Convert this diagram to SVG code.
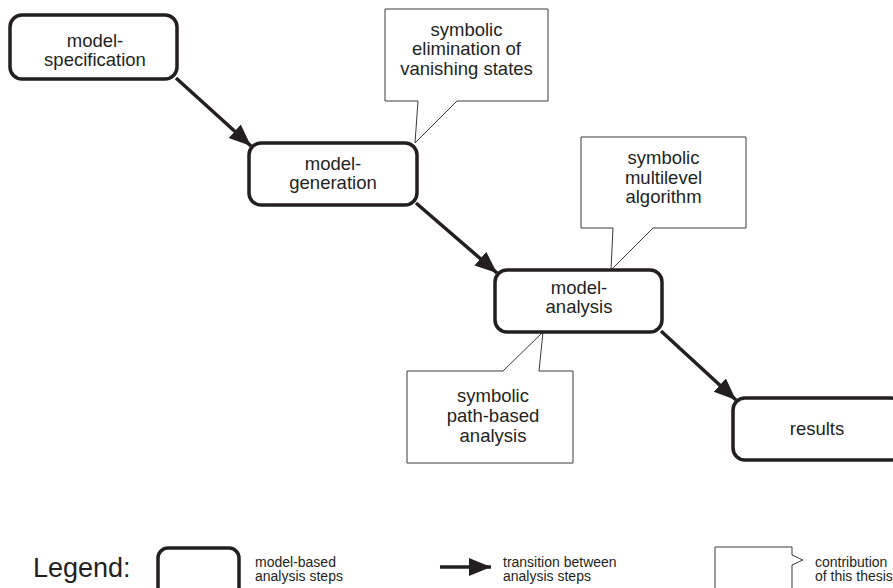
<svg xmlns="http://www.w3.org/2000/svg" width="893" height="588" viewBox="0 0 893 588">
  <style>
    .step { fill: #ffffff; stroke: #231f20; stroke-width: 3.5; }
    .note { fill: #ffffff; stroke: #3a3a3a; stroke-width: 1; }
    .lbl { font-family: "Liberation Sans", Arial, sans-serif; font-size: 18.5px; fill: #231f20; text-anchor: middle; }
    .leg { font-family: "Liberation Sans", Arial, sans-serif; font-size: 14px; fill: #231f20; }
    .flow { stroke: #231f20; stroke-width: 3.5; fill: none; }
  </style>
  <defs>
    <marker id="head" markerUnits="userSpaceOnUse" markerWidth="24" markerHeight="20" viewBox="0 0 24 20" refX="22" refY="10" orient="auto">
      <path d="M0,1 L22,10 L0,19 Z" fill="#231f20"/>
    </marker>
  </defs>
  <rect width="893" height="588" fill="#ffffff"/>

  <!-- transitions between analysis steps -->
  <g id="connectors">
    <line class="flow" x1="176" y1="78" x2="251" y2="146" marker-end="url(#head)"/>
    <line class="flow" x1="416" y1="203" x2="497" y2="273" marker-end="url(#head)"/>
    <line class="flow" x1="661" y1="331" x2="736" y2="400" marker-end="url(#head)"/>
  </g>

  <!-- contribution callouts -->
  <g id="note-elimination">
    <path class="note" d="M385,9 H548 V101 H457 L415,143 L418,101 H385 Z"/>
    <text class="lbl" x="466.5" y="35.5">symbolic</text>
    <text class="lbl" x="466.5" y="55">elimination of</text>
    <text class="lbl" x="466.5" y="74.5">vanishing states</text>
  </g>
  <g id="note-multilevel">
    <path class="note" d="M581,137 H746 V228 H653 L611,270 L613,228 H581 Z"/>
    <text class="lbl" x="663.5" y="164">symbolic</text>
    <text class="lbl" x="663.5" y="183.5">multilevel</text>
    <text class="lbl" x="663.5" y="203">algorithm</text>
  </g>
  <g id="note-pathbased">
    <path class="note" d="M407,371 H503 L543,332 L539,371 H573 V463 H407 Z"/>
    <text class="lbl" x="493" y="402">symbolic</text>
    <text class="lbl" x="493" y="422">path-based</text>
    <text class="lbl" x="493" y="442">analysis</text>
  </g>

  <!-- analysis steps -->
  <g id="model-specification">
    <rect class="step" x="10" y="15" width="167" height="64" rx="12"/>
    <text class="lbl" x="95" y="47">model-</text>
    <text class="lbl" x="95" y="66">specification</text>
  </g>
  <g id="model-generation">
    <rect class="step" x="249" y="143" width="168" height="62" rx="12"/>
    <text class="lbl" x="333" y="170">model-</text>
    <text class="lbl" x="333" y="189">generation</text>
  </g>
  <g id="model-analysis">
    <rect class="step" x="495" y="270" width="167" height="62" rx="12"/>
    <text class="lbl" x="579" y="294">model-</text>
    <text class="lbl" x="579" y="313">analysis</text>
  </g>
  <g id="results">
    <rect class="step" x="733" y="398" width="170" height="62" rx="12"/>
    <text class="lbl" x="817" y="435">results</text>
  </g>

  <!-- legend -->
  <g id="legend">
    <text x="33" y="577" font-family="Liberation Sans, Arial, sans-serif" font-size="27" fill="#231f20">Legend:</text>
    <rect class="step" x="158" y="548" width="81" height="60" rx="10"/>
    <text class="leg" x="255" y="567">model-based</text>
    <text class="leg" x="255" y="581">analysis steps</text>
    <line class="flow" x1="440" y1="567" x2="491" y2="567" marker-end="url(#head)"/>
    <text class="leg" x="503" y="567">transition between</text>
    <text class="leg" x="503" y="581">analysis steps</text>
    <path class="note" d="M715,600 V547 H792 V555 L803,560 L792,565 V600"/>
    <text class="leg" x="815" y="567">contribution</text>
    <text class="leg" x="815" y="581">of this thesis</text>
  </g>
</svg>
